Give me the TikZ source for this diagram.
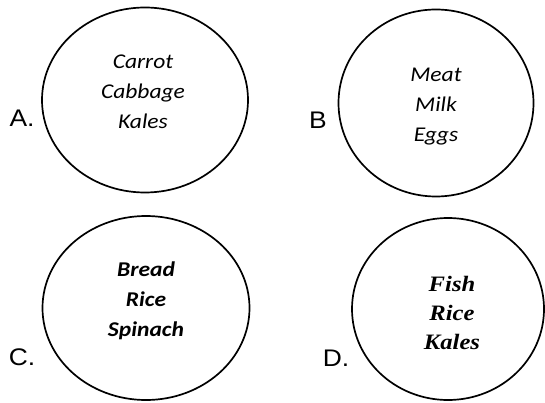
\documentclass[tikz,border=0pt]{standalone}
\usepackage{fontspec}
\usetikzlibrary{shapes.geometric}
\newfontfamily\calfont[FakeStretch=1.12]{Carlito}
\newfontfamily\labfont[FakeStretch=1.1]{Liberation Sans}
\newfontfamily\serfont[FakeStretch=1.12]{Liberation Serif}
\tikzset{
  ring/.style={draw, ellipse, line width=1.7pt, inner sep=0pt},
  items/.style={align=center, font=\calfont\fontsize{21}{30}\selectfont\itshape},
  itemsbold/.style={align=center, font=\calfont\fontsize{21}{30}\selectfont\bfseries\itshape},
  itemsser/.style={align=center, font=\serfont\fontsize{22}{29}\selectfont\bfseries\itshape},
  letter/.style={font=\labfont\fontsize{24}{26}\selectfont, inner sep=0pt}
}
\begin{document}
\begin{tikzpicture}[x=1pt,y=-1pt]
\useasboundingbox[fill=white] (0,0) rectangle (545,403);
\node[ring, minimum width=206pt, minimum height=185pt] (ca) at (145,100) {};
\node[ring, minimum width=195pt, minimum height=187pt] (cb) at (436,103) {};
\node[ring, minimum width=207pt, minimum height=184pt] (cc) at (146,308) {};
\node[ring, minimum width=192pt, minimum height=182pt] (cd) at (448,309) {};
\node[items] (ta) at (143,92) {Carrot\\Cabbage\\Kales};
\node[items] (tb) at (436,107) {Meat\\Milk\\Eggs};
\node[itemsbold] (tc) at (146,301) {Bread\\Rice\\Spinach};
\node[itemsser] (td) at (452,313) {Fish\\Rice\\Kales};
\node[letter] (la) at (22,118) {A.};
\node[letter] (lb) at (318,120) {B};
\node[letter] (lc) at (22,357) {C.};
\node[letter] (ld) at (336,358) {D.};
\end{tikzpicture}
\end{document}
